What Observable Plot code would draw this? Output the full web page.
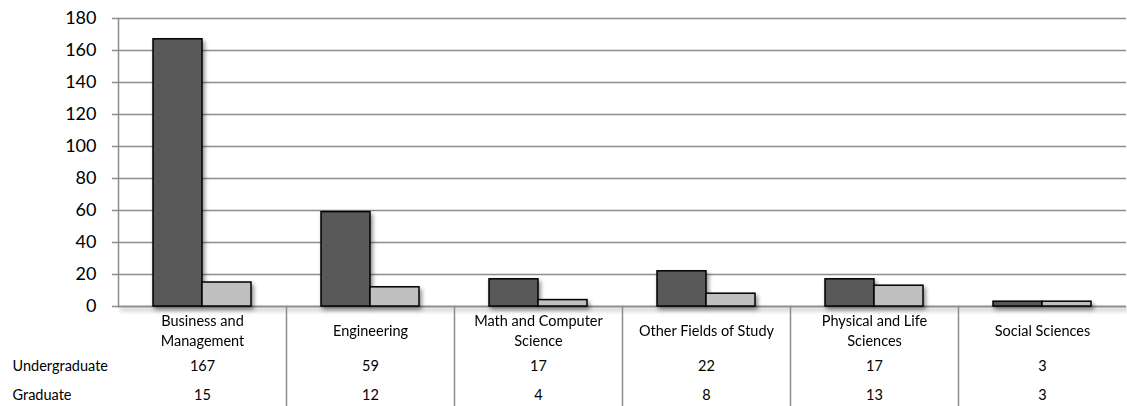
<!DOCTYPE html>
<html><head><meta charset="utf-8">
<script src="https://cdn.jsdelivr.net/npm/d3@7"></script>
<script src="https://cdn.jsdelivr.net/npm/@observablehq/plot@0.6"></script>
<style>
body{margin:0;background:#fff;}
#chart svg{display:block;}
#chart g[aria-label="bar"], #chart g[aria-label="rule"]{filter: drop-shadow(2px 3px 2px rgba(0,0,0,0.45));}
</style></head><body><div id="chart"></div>
<script>
const categories = ["Business and Management","Engineering","Math and Computer Science","Other Fields of Study","Physical and Life Sciences","Social Sciences"];
const categoryLabels = ["Business and\nManagement","Engineering","Math and Computer\nScience","Other Fields of Study","Physical and Life\nSciences","Social Sciences"];
const series = ["Undergraduate","Graduate"];
const undergraduate = [167,59,17,22,17,3];
const graduate = [15,12,4,8,13,3];
const yTicks = [0,20,40,60,80,100,120,140,160,180];
const colors = ["#595959","#bfbfbf"];

const rows = categories.flatMap((c,i)=>[
  {cat:c, series:series[0], value:undergraduate[i]},
  {cat:c, series:series[1], value:graduate[i]}
]);
const labels = categories.map((c,i)=>({cat:c, label:categoryLabels[i]}));
const gridColor = "#8c8c8c";

const chart = Plot.plot({
  width:1127, height:406,
  marginLeft:116, marginRight:0, marginTop:18, marginBottom:100,
  style:{fontFamily:"Lato, 'Open Sans', sans-serif", fontSize:"14.5px", color:"black", background:"white"},
  fx:{domain:categories, padding:0, axis:null},
  x:{domain:series, paddingInner:0, paddingOuter:0.714, axis:null},
  y:{domain:[0,180], axis:null},
  color:{domain:series, range:colors},
  marks:[
    Plot.gridY(yTicks, {stroke:gridColor, strokeOpacity:1, strokeWidth:1.5}),
    Plot.ruleY([0], {stroke:gridColor, strokeWidth:1.5}),
    Plot.frame({anchor:"left", fx:() => categories[0], stroke:gridColor, strokeWidth:1.5}),
    ...categories.slice(1).map(c => Plot.frame({anchor:"left", fx:() => c, stroke:gridColor, strokeWidth:1.5, insetTop:288, insetBottom:-100})),
    Plot.barY(rows, {fx:"cat", x:"series", y:"value", fill:"series", stroke:"black", strokeWidth:1.5}),
    Plot.axisY({ticks:yTicks, tickSize:6, tickPadding:16, stroke:gridColor, strokeWidth:1.5, fill:"black", fontSize:18, label:null}),
    Plot.text(labels, {fx:"cat", x:null, y:null, text:"label", frameAnchor:"bottom", dy:23, lineAnchor:"middle", lineHeight:1.35}),
    Plot.text(rows.filter(d=>d.series===series[0]), {fx:"cat", x:null, y:null, text:"value", frameAnchor:"bottom", dy:64}),
    Plot.text(rows.filter(d=>d.series===series[1]), {fx:"cat", x:null, y:null, text:"value", frameAnchor:"bottom", dy:93}),
    Plot.text([series[0]], {fx:() => categories[0], x:null, y:null, text:d=>d, frameAnchor:"bottom-left", textAnchor:"start", dx:-106, dy:64}),
    Plot.text([series[1]], {fx:() => categories[0], x:null, y:null, text:d=>d, frameAnchor:"bottom-left", textAnchor:"start", dx:-106, dy:93})
  ]
});
document.getElementById("chart").appendChild(chart);
</script></body></html>
